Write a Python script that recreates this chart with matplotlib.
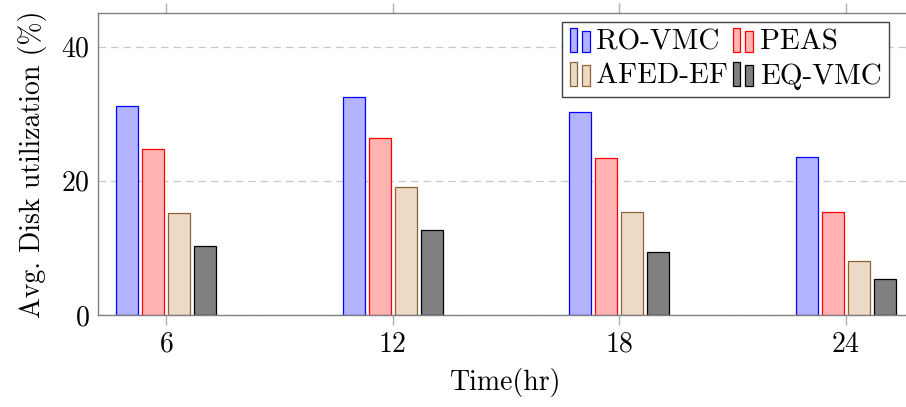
import matplotlib
matplotlib.use("Agg")
import matplotlib.pyplot as plt
import numpy as np
from matplotlib.patches import Rectangle
from matplotlib.legend_handler import HandlerBase
from matplotlib.container import BarContainer

plt.rcParams['font.family'] = 'serif'
plt.rcParams['font.serif'] = ['cmr10', 'DejaVu Serif']
plt.rcParams['mathtext.fontset'] = 'cm'
plt.rcParams['axes.formatter.use_mathtext'] = True

times = [6, 12, 18, 24]
series = ['RO-VMC', 'PEAS', 'AFED-EF', 'EQ-VMC']
ro_vmc = [31.2, 32.5, 30.3, 23.6]
peas = [24.8, 26.4, 23.4, 15.4]
afed_ef = [15.2, 19.0, 15.4, 8.1]
eq_vmc = [10.3, 12.7, 9.4, 5.4]
values = [ro_vmc, peas, afed_ef, eq_vmc]

faces = ['#b3b3ff', '#ffb3b3', '#ecd9c6', '#808080']
edges = ['#0000ff', '#ff0000', '#8c6239', '#000000']

FS = 20

fig = plt.figure(figsize=(9.06, 4.07), dpi=100)
ax = fig.add_axes([98/906, 92/407, 816/906, 302/407])

x = np.array(times, dtype=float)
step = 0.69
width = 0.58
for i, (vals, fc, ec, name) in enumerate(zip(values, faces, edges, series)):
    ax.bar(x + (i - 1.5) * step, vals, width=width, color=fc, edgecolor=ec,
           linewidth=0.9, label=name, zorder=3)

ax.set_xlim(4.2, 25.8)
ax.set_ylim(0, 45)
ax.set_xticks(times)
ax.set_yticks([0, 20, 40])
ax.yaxis.grid(True, linestyle=(0, (6, 4)), color='#c8c8c8', linewidth=0.9, zorder=0)
ax.xaxis.grid(False)

for sp in ax.spines.values():
    sp.set_color('#808080')
    sp.set_linewidth(1.0)
    sp.set_zorder(4)

ax.tick_params(axis='x', which='both', direction='out', length=7, width=1.0,
               color='#b0b0b0', top=True, bottom=True, labelsize=FS, pad=5)
ax.tick_params(axis='y', length=0, labelsize=FS, pad=6)

ax.set_xlabel('Time(hr)', fontsize=FS, labelpad=7)
ax.set_ylabel('Avg. Disk utilization (%)', fontsize=FS, labelpad=10)


class BarHandler(HandlerBase):
    def create_artists(self, legend, orig_handle, xdescent, ydescent, width, height, fontsize, trans):
        p = orig_handle.patches[0]
        fc = p.get_facecolor()
        ec = p.get_edgecolor()
        w = width * 0.36
        r1 = Rectangle((xdescent + 0.0 * width, -ydescent - 0.1 * height), w, height * 1.15,
                       facecolor=fc, edgecolor=ec, linewidth=0.9, transform=trans)
        r2 = Rectangle((xdescent + 0.6 * width, -ydescent - 0.1 * height), w, height * 1.0,
                       facecolor=fc, edgecolor=ec, linewidth=0.9, transform=trans)
        return [r1, r2]


handles, labels = ax.get_legend_handles_labels()
order = [0, 2, 1, 3]
handles = [handles[k] for k in order]
labels = [labels[k] for k in order]
leg = ax.legend(handles, labels, handler_map={BarContainer: BarHandler()}, ncol=2,
                loc='upper right', bbox_to_anchor=(0.969, 0.970), borderaxespad=0,
                fontsize=21, frameon=True, fancybox=False, framealpha=1,
                edgecolor='#404040', handlelength=0.72, handletextpad=0.2,
                columnspacing=0.15, labelspacing=0.25, borderpad=0.25)
leg.get_frame().set_linewidth(1.0)
leg.set_zorder(5)

fig.savefig('out.png', dpi=100)
